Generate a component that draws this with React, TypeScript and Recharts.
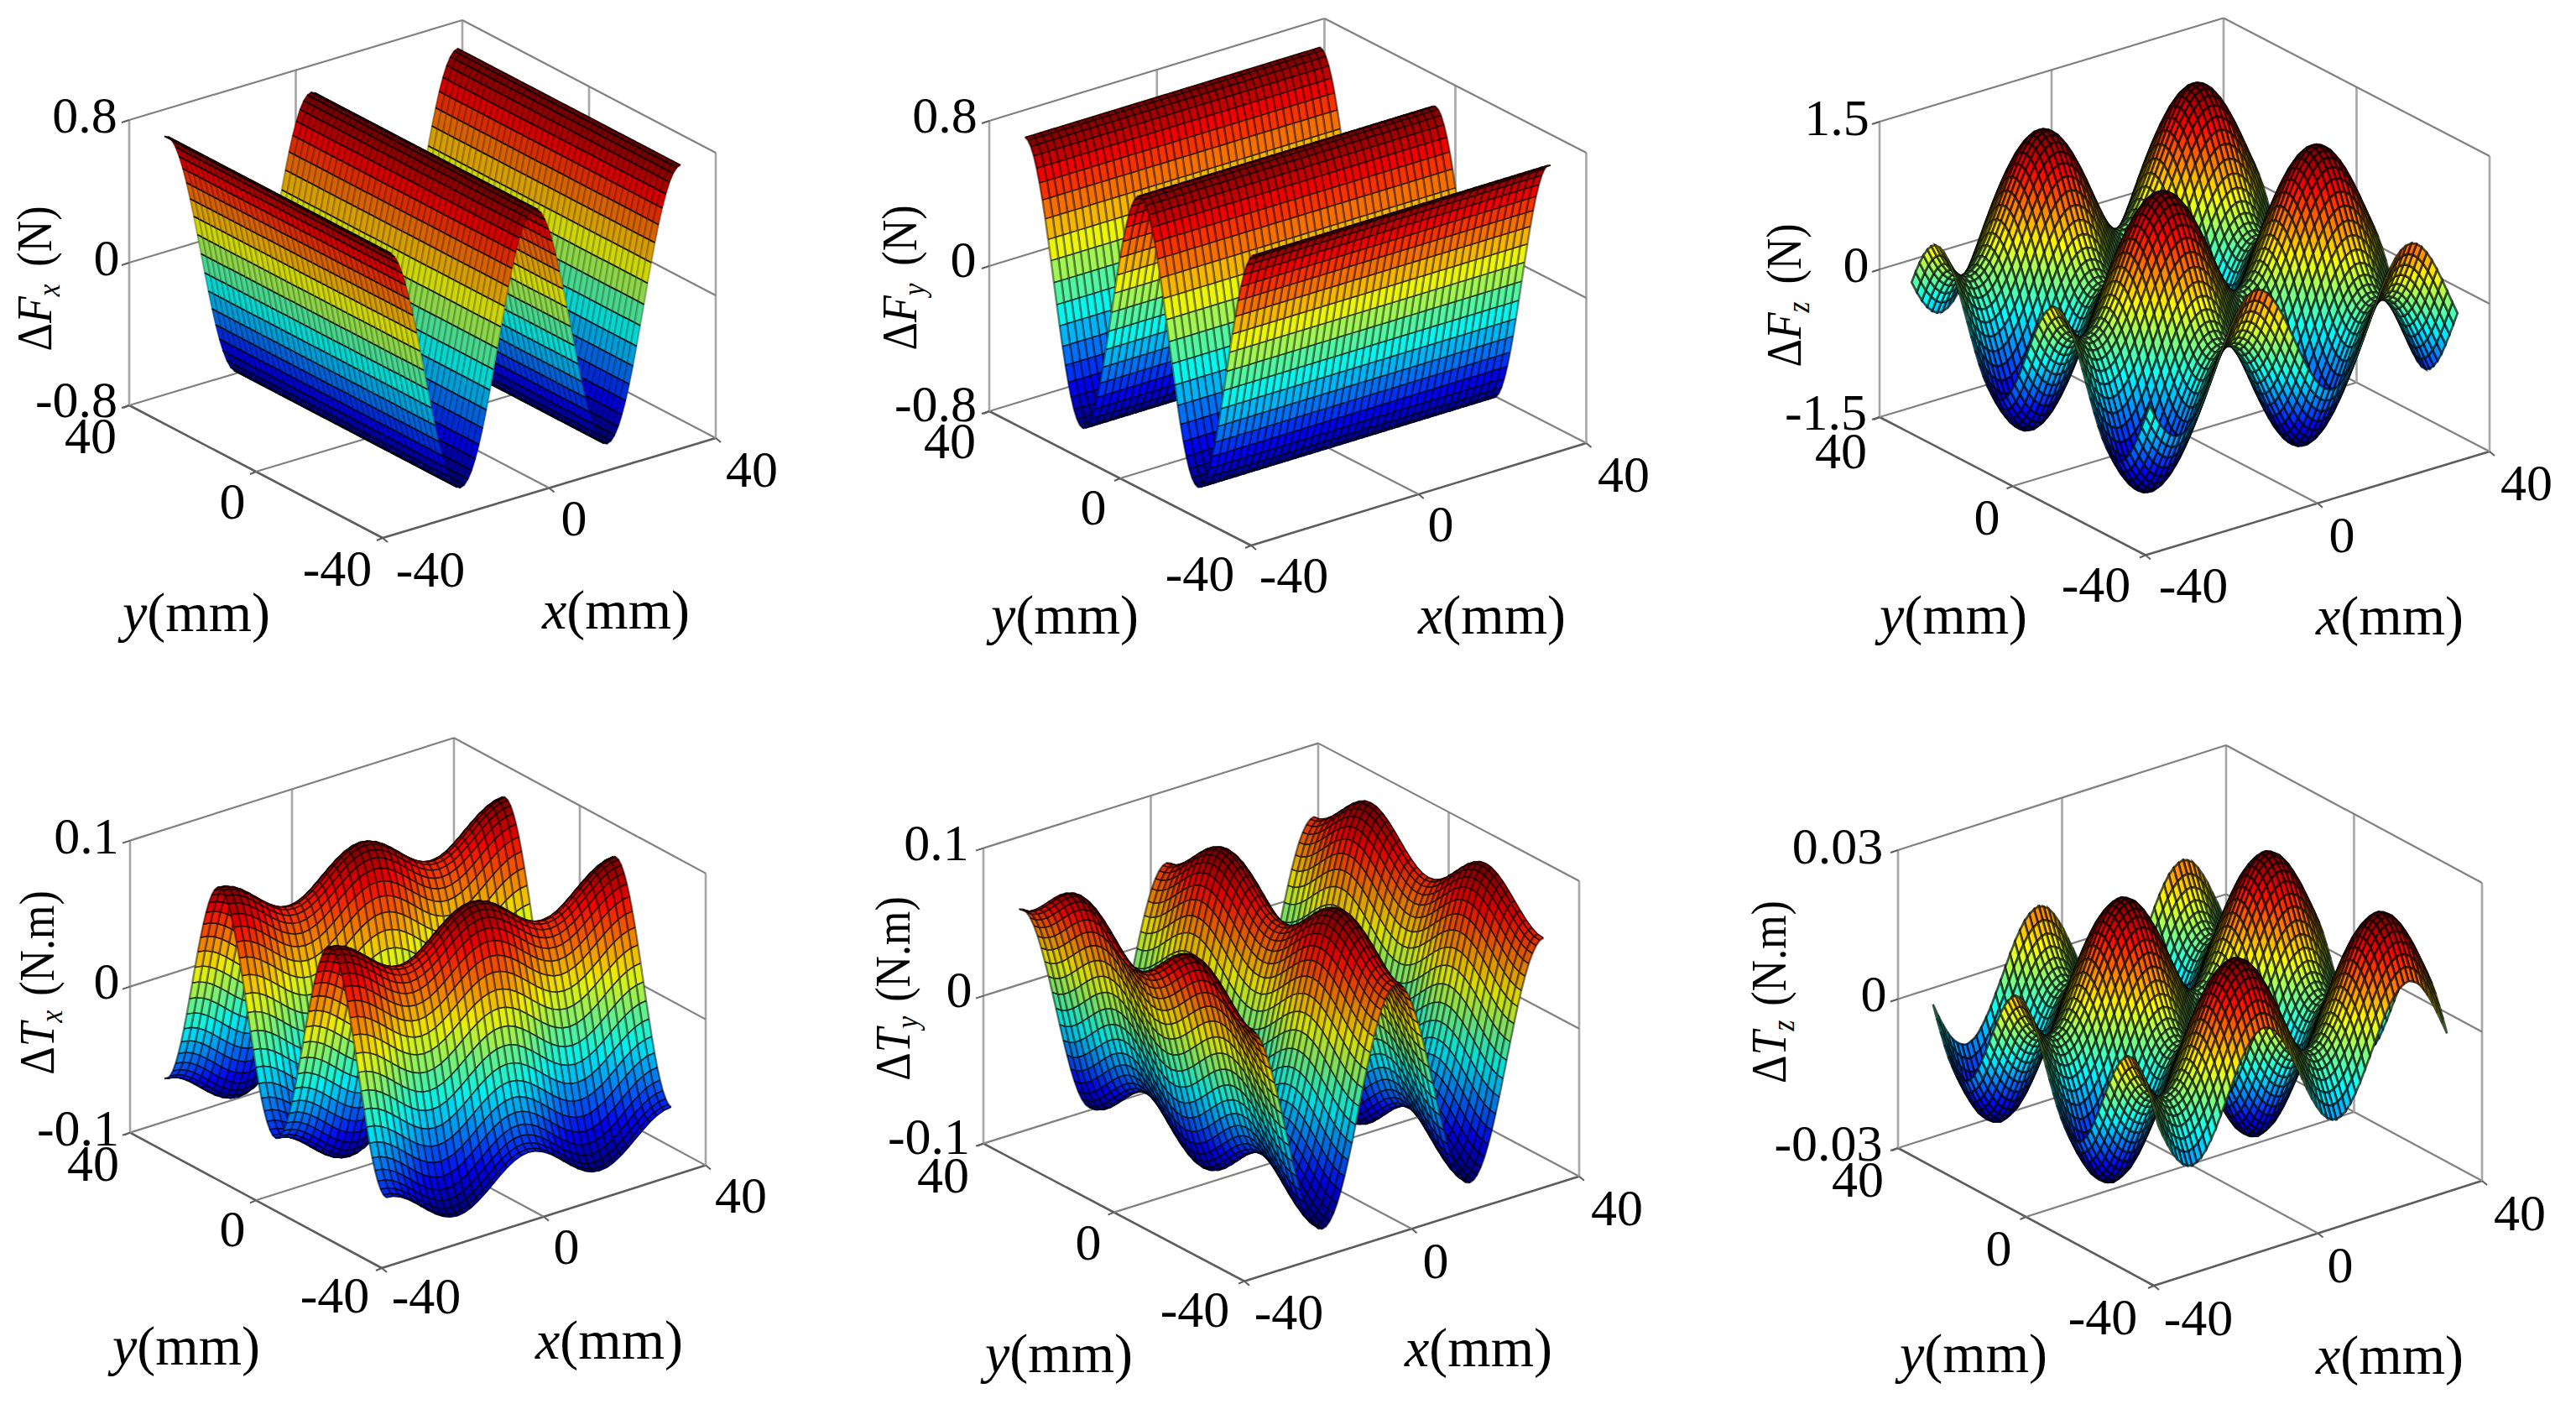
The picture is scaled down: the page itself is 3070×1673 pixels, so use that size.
import React from 'react';
import { ScatterChart, Scatter, XAxis, YAxis } from 'recharts';

const PAGE_W = 3070;
const PAGE_H = 1673;
const SERIF = '"Liberation Serif", serif';

// surface heights read along each axis, from -40 to 40 mm
const fxAlongX = [
  0.72, 0.711, 0.685, 0.642, 0.582, 0.509, 0.423, 0.327, 0.222, 0.113, 0, -0.113, -0.222, -0.327, -0.423, -0.509, -0.582, -0.642, -0.685, -0.711,
  -0.72, -0.711, -0.685, -0.642, -0.582, -0.509, -0.423, -0.327, -0.222, -0.113, 0, 0.113, 0.222, 0.327, 0.423, 0.509, 0.582, 0.642, 0.685, 0.711,
  0.72, 0.711, 0.685, 0.642, 0.582, 0.509, 0.423, 0.327, 0.222, 0.113, 0, -0.113, -0.222, -0.327, -0.423, -0.509, -0.582, -0.642, -0.685, -0.711,
  -0.72, -0.711, -0.685, -0.642, -0.582, -0.509, -0.423, -0.327, -0.222, -0.113, 0, 0.113, 0.222, 0.327, 0.423, 0.509, 0.582, 0.642, 0.685, 0.711, 0.72,
];
const fxAlongY = [
  0, 0, 0, 0, 0, 0, 0, 0, 0, 0, 0, 0, 0, 0, 0, 0, 0, 0, 0, 0, 0, 0, 0, 0, 0, 0, 0, 0, 0, 0, 0, 0, 0, 0, 0, 0, 0, 0, 0, 0, 0,
];

const fyAlongX = [
  0, 0, 0, 0, 0, 0, 0, 0, 0, 0, 0, 0, 0, 0, 0, 0, 0, 0, 0, 0, 0, 0, 0, 0, 0, 0, 0, 0, 0, 0, 0, 0, 0, 0, 0, 0, 0, 0, 0, 0, 0,
];
const fyAlongY = [
  0.72, 0.711, 0.685, 0.642, 0.582, 0.509, 0.423, 0.327, 0.222, 0.113, 0, -0.113, -0.222, -0.327, -0.423, -0.509, -0.582, -0.642, -0.685, -0.711,
  -0.72, -0.711, -0.685, -0.642, -0.582, -0.509, -0.423, -0.327, -0.222, -0.113, 0, 0.113, 0.222, 0.327, 0.423, 0.509, 0.582, 0.642, 0.685, 0.711,
  0.72, 0.711, 0.685, 0.642, 0.582, 0.509, 0.423, 0.327, 0.222, 0.113, 0, -0.113, -0.222, -0.327, -0.423, -0.509, -0.582, -0.642, -0.685, -0.711,
  -0.72, -0.711, -0.685, -0.642, -0.582, -0.509, -0.423, -0.327, -0.222, -0.113, 0, 0.113, 0.222, 0.327, 0.423, 0.509, 0.582, 0.642, 0.685, 0.711, 0.72,
];

const fzAlongX = [
  -0.229, -0.344, -0.445, -0.525, -0.583, -0.616, -0.621, -0.599, -0.552, -0.48, -0.387, -0.277, -0.155, -0.026, 0.104,
  0.229, 0.344, 0.444, 0.525, 0.583, 0.616, 0.621, 0.599, 0.552, 0.479, 0.387, 0.277, 0.155, 0.026, -0.104,
  -0.229, -0.344, -0.445, -0.525, -0.583, -0.616, -0.621, -0.599, -0.552, -0.48, -0.387, -0.277, -0.155, -0.026, 0.104,
  0.229, 0.344, 0.444, 0.525, 0.583, 0.616, 0.621, 0.599, 0.552, 0.479, 0.387, 0.277, 0.155, 0.026, -0.104, -0.229,
];
const fzAlongY = [
  0.116, -0.013, -0.142, -0.265, -0.377, -0.471, -0.545, -0.596, -0.62, -0.618, -0.588, -0.532, -0.454, -0.355, -0.241,
  -0.116, 0.013, 0.142, 0.265, 0.377, 0.471, 0.545, 0.596, 0.62, 0.618, 0.588, 0.532, 0.454, 0.355, 0.241,
  0.116, -0.013, -0.142, -0.265, -0.377, -0.471, -0.545, -0.596, -0.62, -0.618, -0.588, -0.532, -0.454, -0.355, -0.241,
  -0.116, 0.013, 0.142, 0.265, 0.377, 0.471, 0.545, 0.596, 0.62, 0.618, 0.588, 0.532, 0.454, 0.355, 0.241, 0.116,
];

const txAlongX = [
  0.014, 0.0133, 0.0113, 0.0082, 0.0043, 0, -0.0043, -0.0082, -0.0113, -0.0133, -0.014, -0.0133, -0.0113, -0.0082, -0.0043, 0, 0.0043, 0.0082, 0.0113, 0.0133,
  0.014, 0.0133, 0.0113, 0.0082, 0.0043, 0, -0.0043, -0.0082, -0.0113, -0.0133, -0.014, -0.0133, -0.0113, -0.0082, -0.0043, 0, 0.0043, 0.0082, 0.0113, 0.0133, 0.014,
];
const txAlongY = [
  -0.0755, -0.0746, -0.0718, -0.0673, -0.0611, -0.0534, -0.0444, -0.0343, -0.0233, -0.0118, 0, 0.0118, 0.0233, 0.0343, 0.0444, 0.0534, 0.0611, 0.0673, 0.0718, 0.0746,
  0.0755, 0.0746, 0.0718, 0.0673, 0.0611, 0.0534, 0.0444, 0.0343, 0.0233, 0.0118, 0, -0.0118, -0.0233, -0.0343, -0.0444, -0.0534, -0.0611, -0.0673, -0.0718, -0.0746,
  -0.0755, -0.0746, -0.0718, -0.0673, -0.0611, -0.0534, -0.0444, -0.0343, -0.0233, -0.0118, 0, 0.0118, 0.0233, 0.0343, 0.0444, 0.0534, 0.0611, 0.0673, 0.0718, 0.0746,
  0.0755, 0.0746, 0.0718, 0.0673, 0.0611, 0.0534, 0.0444, 0.0343, 0.0233, 0.0118, 0, -0.0118, -0.0233, -0.0343, -0.0444, -0.0534, -0.0611, -0.0673, -0.0718, -0.0746, -0.0755,
];

const tyAlongX = [
  0.075, 0.0741, 0.0713, 0.0668, 0.0607, 0.053, 0.0441, 0.034, 0.0232, 0.0117, 0, -0.0117, -0.0232, -0.034, -0.0441, -0.053, -0.0607, -0.0668, -0.0713, -0.0741,
  -0.075, -0.0741, -0.0713, -0.0668, -0.0607, -0.053, -0.0441, -0.034, -0.0232, -0.0117, 0, 0.0117, 0.0232, 0.034, 0.0441, 0.053, 0.0607, 0.0668, 0.0713, 0.0741,
  0.075, 0.0741, 0.0713, 0.0668, 0.0607, 0.053, 0.0441, 0.034, 0.0232, 0.0117, 0, -0.0117, -0.0232, -0.034, -0.0441, -0.053, -0.0607, -0.0668, -0.0713, -0.0741,
  -0.075, -0.0741, -0.0713, -0.0668, -0.0607, -0.053, -0.0441, -0.034, -0.0232, -0.0117, 0, 0.0117, 0.0232, 0.034, 0.0441, 0.053, 0.0607, 0.0668, 0.0713, 0.0741, 0.075,
];
const tyAlongY = [
  -0.015, -0.0143, -0.0121, -0.0088, -0.0046, 0, 0.0046, 0.0088, 0.0121, 0.0143, 0.015, 0.0143, 0.0121, 0.0088, 0.0046, 0, -0.0046, -0.0088, -0.0121, -0.0143,
  -0.015, -0.0143, -0.0121, -0.0088, -0.0046, 0, 0.0046, 0.0088, 0.0121, 0.0143, 0.015, 0.0143, 0.0121, 0.0088, 0.0046, 0, -0.0046, -0.0088, -0.0121, -0.0143, -0.015,
];

const tzAlongX = [
  -0.0014, -0.0038, -0.006, -0.0079, -0.0095, -0.0106, -0.0113, -0.0116, -0.0112, -0.0105, -0.0092, -0.0075, -0.0056, -0.0033, -0.001,
  0.0014, 0.0038, 0.006, 0.0079, 0.0095, 0.0106, 0.0113, 0.0116, 0.0112, 0.0105, 0.0092, 0.0075, 0.0056, 0.0033, 0.001,
  -0.0014, -0.0038, -0.006, -0.0079, -0.0095, -0.0106, -0.0113, -0.0116, -0.0112, -0.0105, -0.0092, -0.0075, -0.0056, -0.0033, -0.001,
  0.0014, 0.0038, 0.006, 0.0079, 0.0095, 0.0106, 0.0113, 0.0116, 0.0112, 0.0105, 0.0092, 0.0075, 0.0056, 0.0033, 0.001, -0.0014,
];
const tzAlongY = [
  0.0007, 0.0031, 0.0053, 0.0074, 0.0091, 0.0103, 0.0112, 0.0115, 0.0114, 0.0107, 0.0096, 0.0081, 0.0062, 0.004, 0.0017,
  -0.0007, -0.0031, -0.0053, -0.0074, -0.0091, -0.0103, -0.0112, -0.0115, -0.0114, -0.0107, -0.0096, -0.0081, -0.0062, -0.004, -0.0017,
  0.0007, 0.0031, 0.0053, 0.0074, 0.0091, 0.0103, 0.0112, 0.0115, 0.0114, 0.0107, 0.0096, 0.0081, 0.0062, 0.004, 0.0017,
  -0.0007, -0.0031, -0.0053, -0.0074, -0.0091, -0.0103, -0.0112, -0.0115, -0.0114, -0.0107, -0.0096, -0.0081, -0.0062, -0.004, -0.0017, 0.0007,
];

const zTicks = [
  ['0.8', '0', '-0.8'],
  ['0.8', '0', '-0.8'],
  ['1.5', '0', '-1.5'],
  ['0.1', '0', '-0.1'],
  ['0.1', '0', '-0.1'],
  ['0.03', '0', '-0.03'],
];
const xyTicks = ['40', '0', '-40'];
const zMax = [0.8, 0.8, 1.5, 0.1, 0.1, 0.03];
const symbols = ['F', 'F', 'F', 'T', 'T', 'T'];
const subscripts = ['x', 'y', 'z', 'x', 'y', 'z'];
const units = ['(N)', '(N)', '(N)', '(N.m)', '(N.m)', '(N.m)'];

// where each panel sits on the page: F front corner, L left corner, R right corner, h box height
// shade darkens the fills, mesh is [minor width, minor opacity, major width, major opacity]
const layouts = [
  {
    alongX: fxAlongX, alongY: fxAlongY, major: 'x', span: 0.88, shade: 0.84, mesh: [2.4, 0.2, 1.7, 0.85],
    F: [456, 641], L: [154, 483], R: [853, 522], h: 340,
    zPos: [[101, 158], [127, 328], [91, 497]],
    yPos: [[108, 540], [277, 618], [402, 698]],
    xPos: [[896, 580], [684, 638], [513, 699]],
    yName: [234, 752], xName: [734, 749], zName: [61, 332],
  },
  {
    alongX: fyAlongX, alongY: fyAlongY, major: 'y', span: 0.88, shade: 0.96, mesh: [2.6, 0.4, 1.5, 0.75],
    F: [1491, 650], L: [1179, 490], R: [1890.5, 528], h: 346,
    zPos: [[1126, 158], [1148, 330], [1115, 502]],
    yPos: [[1132, 546], [1303, 625], [1430, 704]],
    xPos: [[1935, 586], [1717, 645], [1542, 706]],
    yName: [1269, 755], xName: [1778, 755], zName: [1092, 331],
  },
  {
    alongX: fzAlongX, alongY: fzAlongY, major: 'both', span: 0.895, shade: 1, mesh: [2.7, 0.66, 2.7, 0.66],
    F: [2557, 661.5], L: [2240, 497], R: [2967, 538], h: 352,
    zPos: [[2189, 161], [2212, 336], [2176, 512]],
    yPos: [[2194, 558], [2368, 637], [2498, 717]],
    xPos: [[3011, 596], [2791, 658], [2614, 718]],
    yName: [2328, 755], xName: [2848, 756], zName: [2146, 352],
  },
  {
    alongX: txAlongX, alongY: txAlongY, major: 'y', span: 0.88, shade: 0.94, mesh: [2.5, 0.42, 1.5, 0.8],
    F: [455, 1511], L: [155, 1349.6], R: [841, 1388.6], h: 348,
    zPos: [[103, 1017], [127, 1190], [93, 1365]],
    yPos: [[111, 1407], [277, 1485], [399, 1564]],
    xPos: [[883, 1445], [675, 1506], [508, 1565]],
    yName: [222, 1626], xName: [726, 1619], zName: [64, 1171],
  },
  {
    alongX: tyAlongX, alongY: tyAlongY, major: 'x', span: 0.88, shade: 0.87, mesh: [2.5, 0.45, 1.5, 0.8],
    F: [1483, 1526.7], L: [1172, 1362.6], R: [1882, 1401.7], h: 352,
    zPos: [[1116, 1025], [1143, 1200], [1107, 1375]],
    yPos: [[1124, 1421], [1297, 1501], [1424, 1581]],
    xPos: [[1927, 1460], [1711, 1523], [1536, 1584]],
    yName: [1262, 1635], xName: [1762, 1628], zName: [1084, 1178],
  },
  {
    alongX: tzAlongX, alongY: tzAlongY, major: 'both', span: 0.88, shade: 1, mesh: [2.7, 0.66, 2.7, 0.66],
    F: [2567, 1532], L: [2262, 1368], R: [2958, 1407], h: 355,
    zPos: [[2190, 1029], [2233, 1205], [2179, 1383]],
    yPos: [[2214, 1426], [2382, 1508], [2506, 1590]],
    xPos: [[3003, 1466], [2789, 1528], [2620, 1591]],
    yName: [2352, 1635], xName: [2848, 1637], zName: [2128, 1182],
  },
];

const clip = (v: number) => Math.max(0, Math.min(1, v));
const jet = (t: number, shade: number) => {
  const r = clip(1.5 - Math.abs(4 * t - 3));
  const g = clip(1.5 - Math.abs(4 * t - 2));
  const b = clip(1.5 - Math.abs(4 * t - 1));
  return `rgb(${Math.round(r * shade * 255)},${Math.round(g * shade * 255)},${Math.round(b * shade * 255)})`;
};

// a, b run -1..1 across the box floor, c runs -1..1 up the box
const project = (lay: any, a: number, b: number, c: number) => [
  lay.F[0] + ((a + 1) / 2) * (lay.R[0] - lay.F[0]) + ((b + 1) / 2) * (lay.L[0] - lay.F[0]),
  lay.F[1] + ((a + 1) / 2) * (lay.R[1] - lay.F[1]) + ((b + 1) / 2) * (lay.L[1] - lay.F[1]) - ((c + 1) / 2) * lay.h,
];

const f1 = (v: number) => v.toFixed(1);

const buildCells = (lay: any, top: number) => {
  const nx = lay.alongX.length;
  const ny = lay.alongY.length;
  const height = (i: number, j: number) => lay.alongX[i] + lay.alongY[j];
  let lo = Infinity;
  let hi = -Infinity;
  for (const vx of lay.alongX) for (const vy of lay.alongY) {
    lo = Math.min(lo, vx + vy);
    hi = Math.max(hi, vx + vy);
  }
  const node = (i: number, j: number) =>
    project(lay, lay.span * (-1 + (2 * i) / (nx - 1)), lay.span * (-1 + (2 * j) / (ny - 1)), height(i, j) / top);
  const cells: any[] = [];
  // back corner first, so nearer cells paint over farther ones
  for (let i = nx - 2; i >= 0; i--) {
    for (let j = ny - 2; j >= 0; j--) {
      const p = [node(i, j), node(i + 1, j), node(i + 1, j + 1), node(i, j + 1)];
      const px = (p[0][0] + p[1][0] + p[2][0] + p[3][0]) / 4;
      const py = (p[0][1] + p[1][1] + p[2][1] + p[3][1]) / 4;
      const q = p.map((c) => `${f1(c[0] - px)} ${f1(c[1] - py)}`);
      const mean = (height(i, j) + height(i + 1, j) + height(i + 1, j + 1) + height(i, j + 1)) / 4;
      cells.push({
        px,
        py,
        fill: jet((mean - lo) / (hi - lo), lay.shade),
        outline: `M${q[0]}L${q[1]}L${q[2]}L${q[3]}Z`,
        // edges at constant x run along y, edges at constant y run along x
        xEdges: `M${q[0]}L${q[3]}M${q[1]}L${q[2]}`,
        yEdges: `M${q[0]}L${q[1]}M${q[3]}L${q[2]}`,
        major: lay.major,
        mesh: lay.mesh,
      });
    }
  }
  return cells;
};

const seg = (a: number[], b: number[], stroke: string, width: number) => {
  const px = (a[0] + b[0]) / 2;
  const py = (a[1] + b[1]) / 2;
  return { px, py, dx: (b[0] - a[0]) / 2, dy: (b[1] - a[1]) / 2, stroke, width };
};

const buildBox = (lay: any) => {
  const out: any[] = [];
  const dark = '#5c5c5c';
  const mid = '#808080';
  const wall = '#a6a6a6';
  const P = (a: number, b: number, c: number) => project(lay, a, b, c);
  // floor outline
  out.push(seg(P(-1, -1, -1), P(1, -1, -1), dark, 2.6));
  out.push(seg(P(-1, -1, -1), P(-1, 1, -1), dark, 2.6));
  out.push(seg(P(-1, 1, -1), P(1, 1, -1), mid, 2.2));
  out.push(seg(P(1, -1, -1), P(1, 1, -1), mid, 2.2));
  // floor grid at 0
  out.push(seg(P(0, -1, -1), P(0, 1, -1), mid, 2.2));
  out.push(seg(P(-1, 0, -1), P(1, 0, -1), mid, 2.2));
  // uprights
  out.push(seg(P(-1, 1, -1), P(-1, 1, 1), wall, 2.6));
  out.push(seg(P(1, 1, -1), P(1, 1, 1), wall, 2.6));
  out.push(seg(P(1, -1, -1), P(1, -1, 1), wall, 2.6));
  out.push(seg(P(0, 1, -1), P(0, 1, 1), wall, 2.6));
  out.push(seg(P(1, 0, -1), P(1, 0, 1), wall, 2.6));
  // wall tops
  out.push(seg(P(-1, 1, 1), P(1, 1, 1), mid, 2.2));
  out.push(seg(P(1, 1, 1), P(1, -1, 1), mid, 2.2));
  // walls at z = 0
  out.push(seg(P(-1, 1, 0), P(1, 1, 0), mid, 2.2));
  out.push(seg(P(1, 1, 0), P(1, -1, 0), mid, 2.2));
  // ticks
  [-1, 0, 1].forEach((c) => {
    const p = P(-1, 1, c);
    out.push(seg(p, [p[0] - 9, p[1] + 3], dark, 2));
  });
  [-1, 0, 1].forEach((t) => {
    const p = P(t, -1, -1);
    out.push(seg(p, [p[0] + 6, p[1] + 5], dark, 2));
    const q = P(-1, t, -1);
    out.push(seg(q, [q[0] - 7, q[1] + 3], dark, 2));
  });
  return out;
};

const buildLabels = (lay: any, idx: number) => {
  const out: any[] = [];
  zTicks[idx].forEach((text, k) => out.push({ px: lay.zPos[k][0], py: lay.zPos[k][1], kind: 'tick', text }));
  xyTicks.forEach((text, k) => {
    out.push({ px: lay.yPos[k][0], py: lay.yPos[k][1], kind: 'tick', text });
    out.push({ px: lay.xPos[k][0], py: lay.xPos[k][1], kind: 'tick', text });
  });
  out.push({ px: lay.yName[0], py: lay.yName[1], kind: 'name', text: 'y' });
  out.push({ px: lay.xName[0], py: lay.xName[1], kind: 'name', text: 'x' });
  out.push({ px: lay.zName[0], py: lay.zName[1], kind: 'z', symbol: symbols[idx], sub: subscripts[idx], unit: units[idx] });
  return out;
};

const CellShape = (props: any) => {
  const { cx, cy, payload: c } = props;
  if (cx == null) return null;
  const [minorW, minorO, majorW, majorO] = c.mesh;
  return (
    <g transform={`translate(${cx},${cy})`}>
      <path d={c.outline} fill={c.fill} stroke={c.fill} strokeWidth={0.8} />
      {c.major === 'both' ? (
        <path d={c.outline} fill="none" stroke="#000" strokeOpacity={majorO} strokeWidth={majorW} />
      ) : (
        <>
          <path d={c.major === 'x' ? c.yEdges : c.xEdges} fill="none" stroke="#000" strokeOpacity={minorO} strokeWidth={minorW} />
          <path d={c.major === 'x' ? c.xEdges : c.yEdges} fill="none" stroke="#000" strokeOpacity={majorO} strokeWidth={majorW} />
        </>
      )}
    </g>
  );
};

const SegmentShape = (props: any) => {
  const { cx, cy, payload: s } = props;
  if (cx == null) return null;
  return <line x1={cx - s.dx} y1={cy - s.dy} x2={cx + s.dx} y2={cy + s.dy} stroke={s.stroke} strokeWidth={s.width} />;
};

const LabelShape = (props: any) => {
  const { cx, cy, payload: l } = props;
  if (cx == null) return null;
  if (l.kind === 'tick') {
    return (
      <text x={cx} y={cy} textAnchor="middle" fontFamily={SERIF} fontSize={62} fill="#000">
        {l.text}
      </text>
    );
  }
  if (l.kind === 'name') {
    return (
      <text x={cx} y={cy} textAnchor="middle" fontFamily={SERIF} fontSize={66} fill="#000">
        <tspan fontStyle="italic">{l.text}</tspan>(mm)
      </text>
    );
  }
  return (
    <text transform={`translate(${cx},${cy}) rotate(-90) scale(1,1.12)`} textAnchor="middle" fontFamily={SERIF} fontSize={52} fill="#000">
      {'\u0394'}
      <tspan fontStyle="italic">{l.symbol}</tspan>
      <tspan fontStyle="italic" fontSize={33} dy={9}>{l.sub}</tspan>
      <tspan dy={-9} dx={l.unit === '(N)' ? 8 : 4}> {l.unit}</tspan>
    </text>
  );
};

const boxes = layouts.map((lay) => buildBox(lay));
const surfaces = layouts.map((lay, i) => buildCells(lay, zMax[i]));
const labels = layouts.map((lay, i) => buildLabels(lay, i));

export default function App() {
  return (
    <div style={{ position: 'absolute', left: 0, top: 0, width: PAGE_W, height: PAGE_H, background: '#fff' }}>
      <ScatterChart width={PAGE_W} height={PAGE_H} margin={{ top: 0, right: 0, bottom: 0, left: 0 }}>
        <XAxis type="number" dataKey="px" domain={[0, PAGE_W]} hide />
        <YAxis type="number" dataKey="py" domain={[0, PAGE_H]} reversed hide />
        {boxes.map((d, i) => (
          <Scatter key={`box${i}`} data={d} shape={SegmentShape} isAnimationActive={false} />
        ))}
        {surfaces.map((d, i) => (
          <Scatter key={`surface${i}`} data={d} shape={CellShape} isAnimationActive={false} />
        ))}
        {labels.map((d, i) => (
          <Scatter key={`label${i}`} data={d} shape={LabelShape} isAnimationActive={false} />
        ))}
      </ScatterChart>
    </div>
  );
}
